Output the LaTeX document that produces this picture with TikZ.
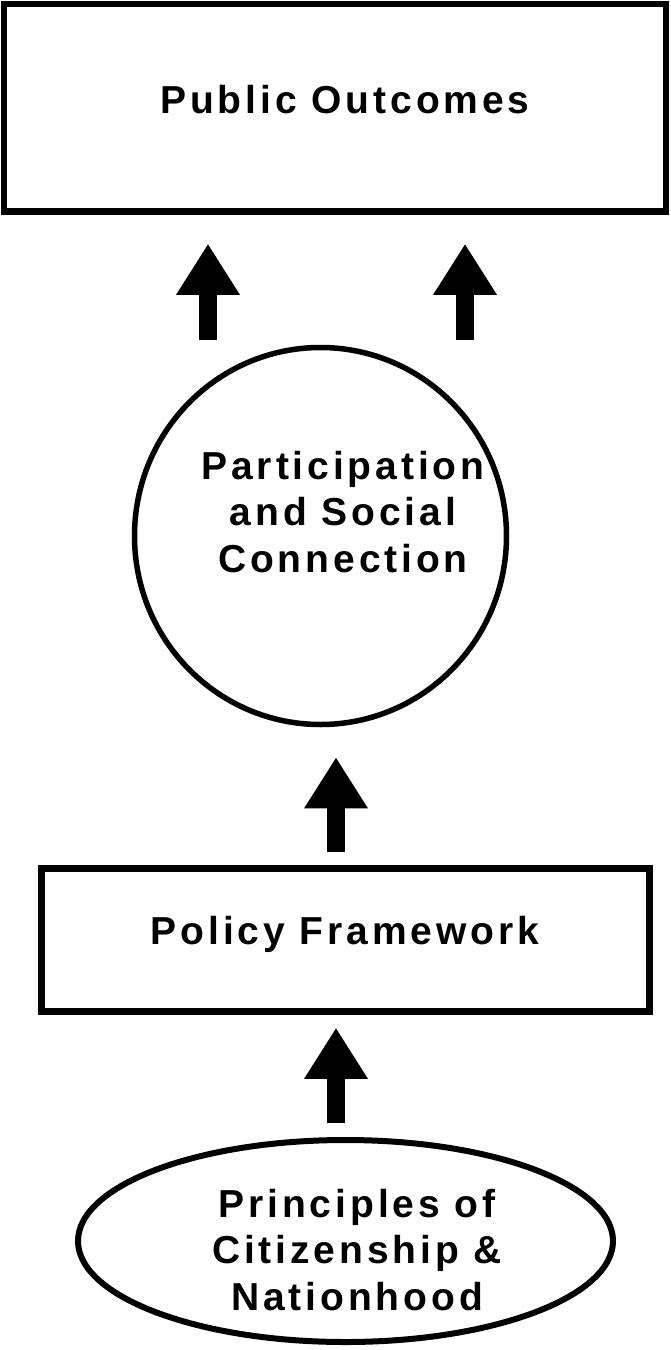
\documentclass[tikz,border=0pt]{standalone}
\usepackage{fontspec}
\usepackage{tikz}
\usetikzlibrary{shapes.geometric,arrows.meta}

\newfontfamily\diagfont[LetterSpace=10]{Liberation Sans}

\begin{document}
\begin{tikzpicture}[x=1pt,y=1pt,
        box/.style={draw, rectangle, line width=6.5pt, inner sep=0pt},
        oval/.style={draw, ellipse, line width=5.5pt, inner sep=0pt},
        caption/.style={inner sep=0pt, anchor=north, align=center,
            font=\diagfont\bfseries\fontsize{39}{46.5}\selectfont},
        bigarrow/.style={line width=18pt, -{Triangle[length=51pt,width=60pt]}}]
        \useasboundingbox (0,0) rectangle (670,-1350);

        % shapes
        \node[box, minimum width=662pt, minimum height=207.5pt] (outcomes) at (335,-107.75) {};
        \node[oval, minimum width=372pt, minimum height=377pt] (participation) at (320.5,-536) {};
        \node[box, minimum width=608pt, minimum height=143pt] (policy) at (345.5,-940) {};
        \node[oval, line width=6pt, minimum width=535pt, minimum height=202pt] (principles) at (345.5,-1241) {};

        % texts
        \node[caption] (outcomesText) at (345,-85) {Public Outcomes};
        \node[caption] (participationText) at (343,-451) {Participation\\and Social\\Connection};
        \node[caption] (policyText) at (345,-916) {Policy Framework};
        \node[caption] (principlesText) at (357,-1189) {Principles of\\Citizenship \&\\Nationhood};

        % arrows
        \draw[bigarrow] ([xshift=-112.5pt,yshift=5pt]participation.north) -- ([xshift=-127pt,yshift=-29pt]outcomes.south);
        \draw[bigarrow] ([xshift=144.5pt,yshift=5pt]participation.north) -- ([xshift=130pt,yshift=-29pt]outcomes.south);
        \draw[bigarrow] ([xshift=-9.5pt,yshift=13pt]policy.north) -- ([xshift=15.5pt,yshift=-30pt]participation.south);
        \draw[bigarrow] ([xshift=-9.5pt,yshift=14pt]principles.north) -- ([xshift=-9.5pt,yshift=-13pt]policy.south);
    \end{tikzpicture}
\end{document}
